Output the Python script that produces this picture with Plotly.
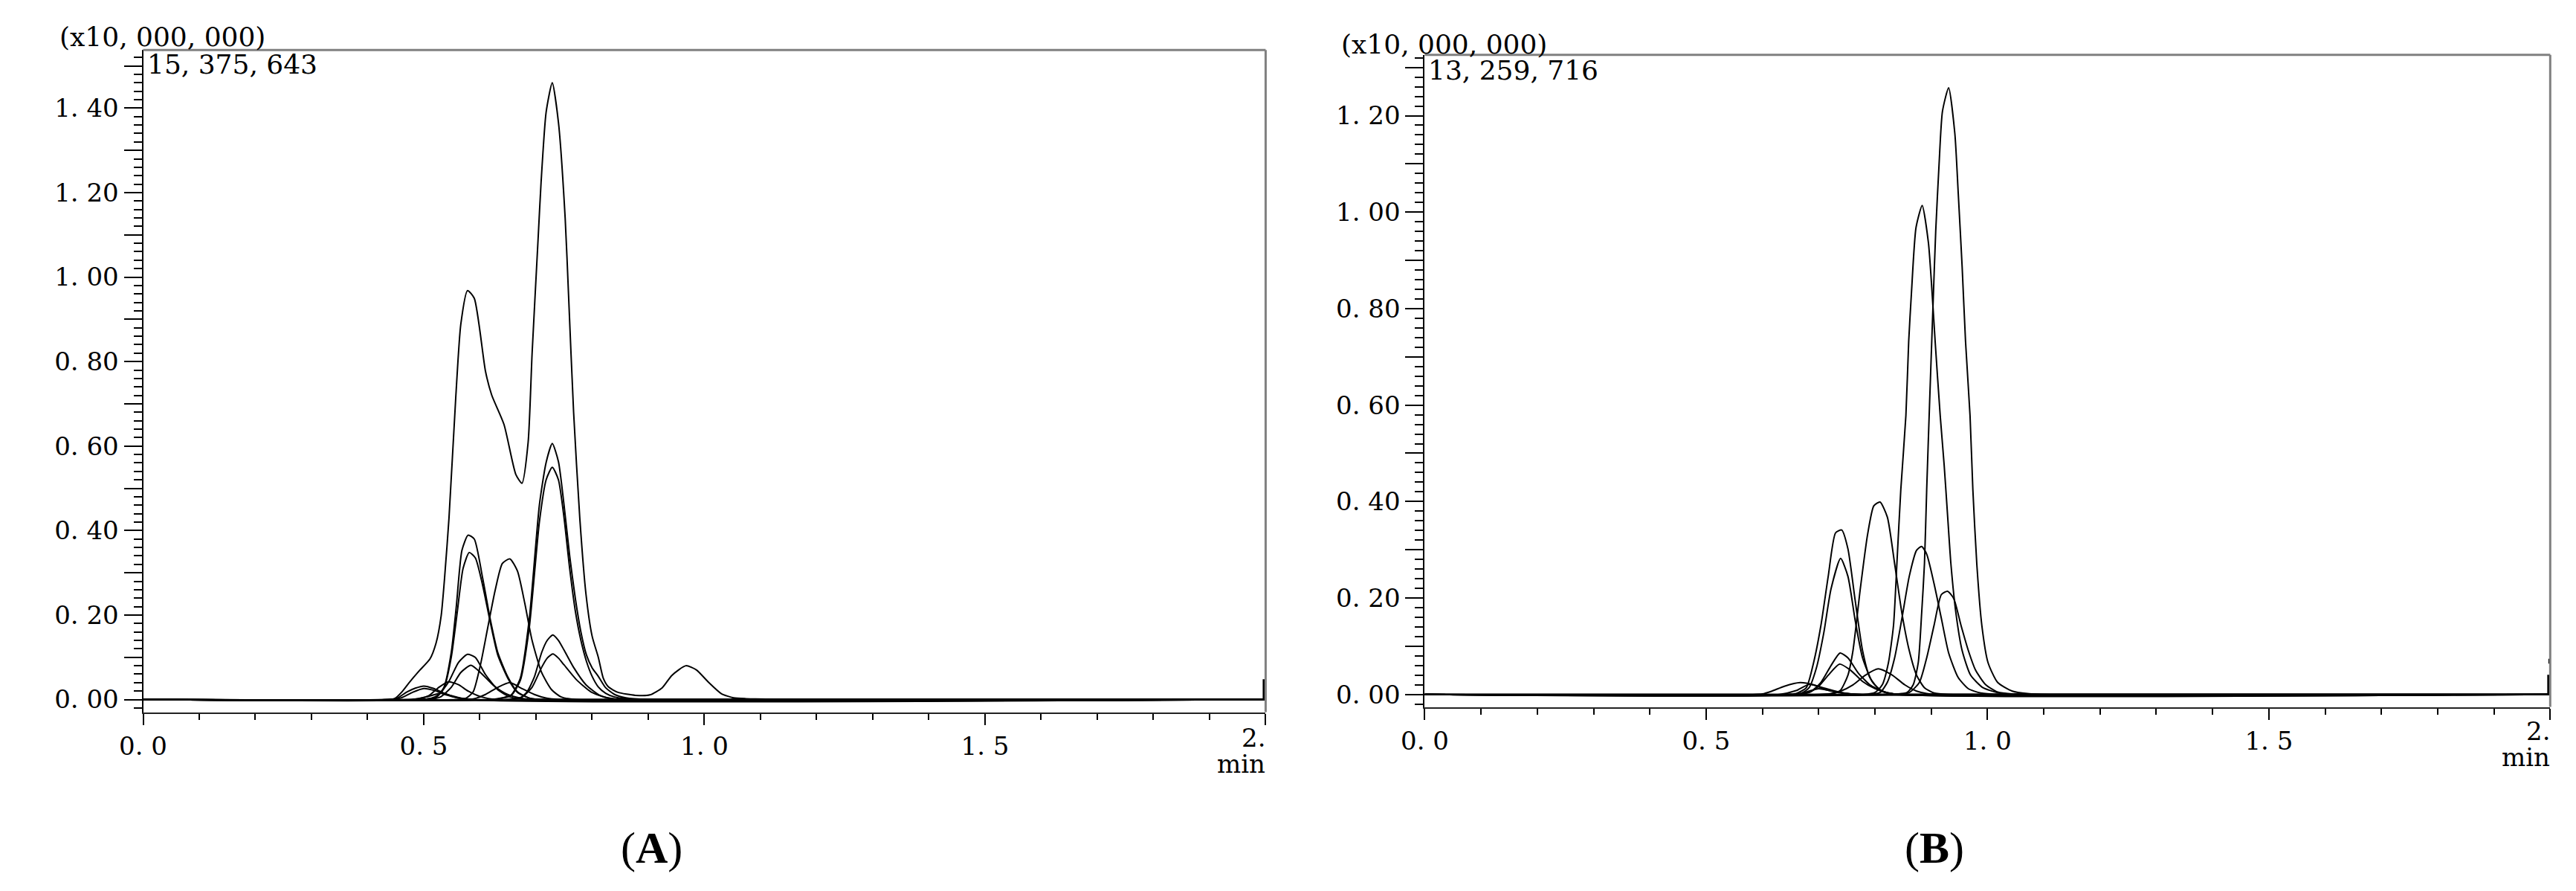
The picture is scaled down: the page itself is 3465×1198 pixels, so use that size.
import plotly.graph_objects as go

# ---------------- Panel A data (intensity in x10,000,000; time in min) ----------------
a_tic_t = [0.0, 0.44, 0.448, 0.461, 0.474, 0.492, 0.511, 0.522, 0.531, 0.537, 0.545, 0.557, 0.566, 0.578, 0.590,
           0.610, 0.621, 0.643, 0.664, 0.675, 0.686, 0.693, 0.704, 0.709, 0.718, 0.729, 0.740, 0.752, 0.758, 0.767,
           0.778, 0.789, 0.800, 0.811, 0.820, 0.829, 0.846, 0.877, 0.903, 0.925, 0.942, 0.967, 0.986, 1.008, 1.030,
           1.052, 1.074, 1.20, 2.0]
a_tic_y = [0.0, 0.0, 0.002, 0.018, 0.040, 0.068, 0.096, 0.134, 0.198, 0.286, 0.43, 0.714, 0.888, 0.968, 0.950,
           0.777, 0.721, 0.651, 0.533, 0.512, 0.609, 0.818, 1.097, 1.223, 1.390, 1.460, 1.366, 1.139, 0.958, 0.680,
           0.43, 0.25, 0.15, 0.10, 0.05, 0.030, 0.017, 0.010, 0.011, 0.028, 0.057, 0.080, 0.070, 0.040, 0.014,
           0.004, 0.002, 0.0, 0.0]

a_p2_t = [0.0, 0.62, 0.64, 0.656, 0.672, 0.688, 0.706, 0.718, 0.729, 0.740, 0.750, 0.760, 0.770, 0.780, 0.790, 0.800,
          0.811, 0.824, 0.840, 0.860, 0.90, 2.0]
a_p2_y = [0, 0, 0.004, 0.011, 0.05, 0.19, 0.46, 0.561, 0.606, 0.563, 0.46, 0.34, 0.24, 0.16, 0.105, 0.075,
          0.055, 0.028, 0.012, 0.004, 0, 0]
a_p3_t = a_p2_t
a_p3_y = [0, 0, 0.003, 0.010, 0.045, 0.17, 0.42, 0.52, 0.55, 0.52, 0.43, 0.31, 0.21, 0.14, 0.09, 0.055,
          0.03, 0.015, 0.006, 0.002, 0, 0]

a_p4_t = [0.0, 0.50, 0.522, 0.536, 0.549, 0.558, 0.568, 0.579, 0.590, 0.605, 0.619, 0.632, 0.650, 0.667, 0.689, 0.72, 2.0]
a_p4_y = [0, 0, 0.006, 0.029, 0.111, 0.22, 0.353, 0.389, 0.38, 0.287, 0.187, 0.111, 0.053, 0.018, 0.003, 0, 0]
a_p5_t = [0.0, 0.50, 0.522, 0.536, 0.549, 0.560, 0.570, 0.581, 0.592, 0.605, 0.619, 0.632, 0.650, 0.667, 0.689, 0.72, 2.0]
a_p5_y = [0, 0, 0.005, 0.027, 0.10, 0.21, 0.31, 0.348, 0.335, 0.27, 0.18, 0.105, 0.05, 0.017, 0.003, 0, 0]
a_p6_t = [0.0, 0.56, 0.575, 0.588, 0.601, 0.614, 0.627, 0.640, 0.6535, 0.667, 0.680, 0.693, 0.710, 0.728, 0.745, 0.77, 2.0]
a_p6_y = [0, 0, 0.003, 0.018, 0.082, 0.170, 0.257, 0.322, 0.333, 0.304, 0.228, 0.140, 0.064, 0.023, 0.006, 0, 0]
a_p7_t = [0.0, 0.65, 0.671, 0.684, 0.697, 0.710, 0.720, 0.730, 0.740, 0.750, 0.767, 0.789, 0.815, 0.842, 0.87, 2.0]
a_p7_y = [0, 0, 0.003, 0.018, 0.053, 0.111, 0.140, 0.153, 0.140, 0.117, 0.076, 0.035, 0.009, 0.001, 0, 0]
a_p8_t = [0.0, 0.65, 0.675, 0.693, 0.710, 0.720, 0.730, 0.740, 0.750, 0.772, 0.798, 0.824, 0.85, 2.0]
a_p8_y = [0, 0, 0.006, 0.029, 0.076, 0.098, 0.108, 0.098, 0.082, 0.047, 0.018, 0.005, 0, 0]
a_p9_t = [0.0, 0.49, 0.513, 0.527, 0.544, 0.562, 0.578, 0.592, 0.610, 0.632, 0.654, 0.68, 2.0]
a_p9_y = [0, 0, 0.003, 0.012, 0.041, 0.088, 0.107, 0.0995, 0.059, 0.023, 0.006, 0, 0]
a_p10_t = [0.0, 0.51, 0.531, 0.549, 0.566, 0.584, 0.601, 0.623, 0.645, 0.667, 0.69, 2.0]
a_p10_y = [0, 0, 0.007, 0.029, 0.064, 0.081, 0.064, 0.035, 0.015, 0.005, 0, 0]
a_p11_t = [0.0, 0.47, 0.492, 0.509, 0.527, 0.544, 0.562, 0.579, 0.601, 0.63, 2.0]
a_p11_y = [0, 0, 0.002, 0.009, 0.029, 0.042, 0.035, 0.020, 0.007, 0, 0]
a_p12_t = [0.0, 0.43, 0.452, 0.470, 0.485, 0.500, 0.518, 0.536, 0.558, 0.58, 2.0]
a_p12_y = [0, 0, 0.003, 0.018, 0.027, 0.032, 0.026, 0.015, 0.005, 0, 0]
a_p13_t = [0.0, 0.44, 0.46, 0.48, 0.50, 0.52, 0.54, 0.56, 0.59, 2.0]
a_p13_y = [0, 0, 0.004, 0.017, 0.026, 0.021, 0.011, 0.004, 0, 0]
a_p14_t = [0.0, 0.58, 0.593, 0.610, 0.632, 0.6535, 0.675, 0.697, 0.719, 0.74, 2.0]
a_p14_y = [0, 0, 0.003, 0.012, 0.029, 0.040, 0.026, 0.012, 0.003, 0, 0]
a_p15_t = [0.0, 0.48, 0.51, 0.53, 0.55, 0.58, 2.0]
a_p15_y = [0, 0, 0.008, 0.015, 0.009, 0, 0]
a_end_t = [2.0, 2.0]
a_end_y = [0.0, 0.048]

# ---------------- Panel B data ----------------
b_p1_t = [0.0, 0.80, 0.840, 0.857, 0.868, 0.877, 0.883, 0.888, 0.892, 0.897, 0.903, 0.908, 0.914, 0.920, 0.931,
          0.942, 0.948, 0.955, 0.961, 0.969, 0.974, 0.981, 0.990, 1.001, 1.018, 1.044, 1.071, 1.12, 2.0]
b_p1_y = [0, 0, 0.001, 0.004, 0.020, 0.066, 0.168, 0.271, 0.425, 0.60, 0.80, 0.96, 1.10, 1.209, 1.258,
          1.163, 1.040, 0.886, 0.732, 0.578, 0.425, 0.271, 0.143, 0.066, 0.025, 0.007, 0.002, 0, 0]
b_p2_t = [0.0, 0.78, 0.800, 0.813, 0.824, 0.833, 0.839, 0.846, 0.855, 0.860, 0.865, 0.873, 0.884, 0.895, 0.900,
          0.907, 0.916, 0.923, 0.929, 0.935, 0.944, 0.955, 0.970, 0.992, 1.018, 1.06, 2.0]
b_p2_y = [0, 0, 0.004, 0.020, 0.066, 0.143, 0.271, 0.425, 0.578, 0.732, 0.835, 0.968, 1.014, 0.937, 0.861,
          0.732, 0.578, 0.476, 0.373, 0.271, 0.168, 0.091, 0.040, 0.014, 0.004, 0, 0]
b_p3_t = [0.0, 0.64, 0.660, 0.678, 0.691, 0.704, 0.717, 0.730, 0.741, 0.752, 0.765, 0.778, 0.791, 0.809, 0.826, 0.85, 2.0]
b_p3_y = [0, 0, 0.002, 0.014, 0.066, 0.143, 0.245, 0.335, 0.341, 0.302, 0.194, 0.091, 0.035, 0.009, 0.002, 0, 0]
b_p4_t = [0.0, 0.65, 0.670, 0.683, 0.696, 0.709, 0.722, 0.739, 0.752, 0.765, 0.778, 0.796, 0.813, 0.84, 2.0]
b_p4_y = [0, 0, 0.003, 0.014, 0.055, 0.127, 0.219, 0.282, 0.245, 0.153, 0.076, 0.025, 0.007, 0, 0]
b_p5_t = [0.0, 0.70, 0.726, 0.739, 0.752, 0.761, 0.774, 0.787, 0.798, 0.809, 0.822, 0.835, 0.848, 0.861, 0.874,
          0.888, 0.905, 0.93, 2.0]
b_p5_y = [0, 0, 0.002, 0.009, 0.040, 0.091, 0.219, 0.332, 0.391, 0.399, 0.368, 0.271, 0.168, 0.091, 0.040,
          0.014, 0.003, 0, 0]
b_p6_t = [0.0, 0.79, 0.809, 0.822, 0.835, 0.848, 0.861, 0.874, 0.883, 0.892, 0.905, 0.918, 0.931, 0.948, 0.966,
          0.988, 1.02, 2.0]
b_p6_y = [0, 0, 0.004, 0.025, 0.076, 0.158, 0.245, 0.299, 0.307, 0.291, 0.230, 0.158, 0.086, 0.035, 0.012,
          0.003, 0, 0]
b_p7_t = [0.0, 0.84, 0.861, 0.879, 0.892, 0.905, 0.918, 0.929, 0.940, 0.953, 0.966, 0.979, 0.997, 1.018, 1.044, 1.08, 2.0]
b_p7_y = [0, 0, 0.004, 0.025, 0.076, 0.143, 0.207, 0.214, 0.199, 0.143, 0.091, 0.050, 0.020, 0.005, 0.001, 0, 0]
b_p8_t = [0.0, 0.66, 0.687, 0.704, 0.722, 0.738, 0.752, 0.770, 0.791, 0.813, 0.84, 2.0]
b_p8_y = [0, 0, 0.007, 0.025, 0.060, 0.086, 0.076, 0.045, 0.020, 0.007, 0, 0]
b_p9_t = [0.0, 0.66, 0.683, 0.700, 0.717, 0.737, 0.757, 0.778, 0.800, 0.822, 0.85, 2.0]
b_p9_y = [0, 0, 0.004, 0.017, 0.040, 0.063, 0.050, 0.027, 0.012, 0.003, 0, 0]
b_p10_t = [0.0, 0.70, 0.722, 0.739, 0.761, 0.783, 0.806, 0.831, 0.853, 0.874, 0.892, 0.92, 2.0]
b_p10_y = [0, 0, 0.002, 0.007, 0.020, 0.040, 0.053, 0.040, 0.020, 0.007, 0.002, 0, 0]
b_p11_t = [0.0, 0.58, 0.600, 0.617, 0.639, 0.667, 0.691, 0.713, 0.735, 0.757, 0.78, 2.0]
b_p11_y = [0, 0, 0.001, 0.007, 0.017, 0.0246, 0.020, 0.010, 0.004, 0.001, 0, 0]
b_p12_t = [0.0, 0.63, 0.66, 0.683, 0.71, 0.74, 0.77, 2.0]
b_p12_y = [0, 0, 0.008, 0.021, 0.013, 0.004, 0, 0]
b_p13_t = [0.0, 0.66, 0.68, 0.70, 0.72, 0.75, 0.78, 2.0]
b_p13_y = [0, 0, 0.006, 0.012, 0.008, 0.002, 0, 0]
b_end_t = [2.0, 2.0]
b_end_y = [0.0, 0.041]
b_dot_y = [0.064, 0.074]

# ---------------- axis / text labels ----------------
x_tickvals = [0.0, 0.5, 1.0, 1.5, 2.0]
x_ticktext = ["0. 0", "0. 5", "1. 0", "1. 5", ""]
a_y_tickvals = [0.0, 0.1, 0.2, 0.3, 0.4, 0.5, 0.6, 0.7, 0.8, 0.9, 1.0, 1.1, 1.2, 1.3, 1.4, 1.5]
a_y_ticktext = ["0. 00", "", "0. 20", "", "0. 40", "", "0. 60", "", "0. 80", "", "1. 00", "", "1. 20", "", "1. 40", ""]
b_y_tickvals = [0.0, 0.1, 0.2, 0.3, 0.4, 0.5, 0.6, 0.7, 0.8, 0.9, 1.0, 1.1, 1.2, 1.3]
b_y_ticktext = ["0. 00", "", "0. 20", "", "0. 40", "", "0. 60", "", "0. 80", "", "1. 00", "", "1. 20", ""]
a_max_label = "15, 375, 643"
b_max_label = "13, 259, 716"
scale_label = "(x10, 000, 000)"
a_ymax = 1.5375643
b_ymax = 1.3259716

W, H = 3465, 1198
FONT = "DejaVu Serif"

fig = go.Figure()

line_style = dict(color="black", width=2, shape="spline", smoothing=0.6)

a_series = [(a_tic_t, a_tic_y), (a_p2_t, a_p2_y), (a_p3_t, a_p3_y), (a_p4_t, a_p4_y), (a_p5_t, a_p5_y),
            (a_p6_t, a_p6_y), (a_p7_t, a_p7_y), (a_p8_t, a_p8_y), (a_p9_t, a_p9_y), (a_p10_t, a_p10_y),
            (a_p11_t, a_p11_y), (a_p12_t, a_p12_y), (a_p13_t, a_p13_y), (a_p14_t, a_p14_y), (a_p15_t, a_p15_y)]
b_series = [(b_p1_t, b_p1_y), (b_p2_t, b_p2_y), (b_p3_t, b_p3_y), (b_p4_t, b_p4_y), (b_p5_t, b_p5_y),
            (b_p6_t, b_p6_y), (b_p7_t, b_p7_y), (b_p8_t, b_p8_y), (b_p9_t, b_p9_y), (b_p10_t, b_p10_y),
            (b_p11_t, b_p11_y), (b_p12_t, b_p12_y), (b_p13_t, b_p13_y)]

for t, y in a_series:
    fig.add_trace(go.Scatter(x=t, y=y, mode="lines", line=line_style, xaxis="x", yaxis="y",
                             showlegend=False, hoverinfo="skip"))
for t, y in b_series:
    fig.add_trace(go.Scatter(x=t, y=y, mode="lines", line=line_style, xaxis="x2", yaxis="y2",
                             showlegend=False, hoverinfo="skip"))

fig.add_trace(go.Scatter(x=a_end_t, y=a_end_y, mode="lines", line=dict(color="black", width=8),
                         xaxis="x", yaxis="y", showlegend=False, hoverinfo="skip"))
fig.add_trace(go.Scatter(x=b_end_t, y=b_end_y, mode="lines", line=dict(color="black", width=8),
                         xaxis="x2", yaxis="y2", showlegend=False, hoverinfo="skip"))
fig.add_trace(go.Scatter(x=b_end_t, y=b_dot_y, mode="lines", line=dict(color="black", width=5),
                         xaxis="x2", yaxis="y2", showlegend=False, hoverinfo="skip"))

tickfont = dict(family=FONT, size=34, color="black")


def xaxis_cfg(domain, anchor):
    return dict(domain=domain, anchor=anchor, range=[0, 2.0], tickmode="array", tickvals=x_tickvals,
                ticktext=x_ticktext, ticks="outside", ticklen=15, tickwidth=2, tickcolor="black",
                showline=True, linecolor="#222222", linewidth=2, showgrid=False, zeroline=False,
                tickfont=tickfont, fixedrange=True,
                minor=dict(tickmode="linear", tick0=0, dtick=0.1, ticks="outside", ticklen=8,
                           tickwidth=2, tickcolor="black", showgrid=False))


def yaxis_cfg(domain, anchor, rng, tv, tt):
    return dict(domain=domain, anchor=anchor, range=rng, tickmode="array", tickvals=tv, ticktext=tt,
                ticks="outside", ticklen=24, tickwidth=2, tickcolor="black", showline=True,
                linecolor="black", linewidth=2, showgrid=False, zeroline=False, tickfont=tickfont,
                fixedrange=True,
                minor=dict(tickmode="linear", tick0=0, dtick=0.02, ticks="outside", ticklen=11,
                           tickwidth=2, tickcolor="black", showgrid=False))


a_xdom = [162 / W, 1686 / W]
a_ydom = [1 - 960 / H, 1 - 67.4 / H]
b_xdom = [1902 / W, 3430 / W]
b_ydom = [1 - 953 / H, 1 - 74 / H]

fig.update_layout(
    width=W, height=H, margin=dict(l=0, r=0, t=0, b=0),
    paper_bgcolor="white", plot_bgcolor="white", showlegend=False,
    xaxis=xaxis_cfg(a_xdom, "y"),
    yaxis=yaxis_cfg(a_ydom, "x", [-0.03, a_ymax], a_y_tickvals, a_y_ticktext),
    xaxis2=xaxis_cfg(b_xdom, "y2"),
    yaxis2=yaxis_cfg(b_ydom, "x2", [-0.026, b_ymax], b_y_tickvals, b_y_ticktext),
)

# top / right frame lines (gray)
for xr, yr in (("x domain", "y domain"), ("x2 domain", "y2 domain")):
    fig.add_shape(type="line", xref=xr, yref=yr, x0=0, x1=1, y0=1, y1=1,
                  line=dict(color="#808080", width=3))
    fig.add_shape(type="line", xref=xr, yref=yr, x0=1, x1=1, y0=0, y1=1,
                  line=dict(color="#808080", width=3))

txt = dict(family=FONT, size=36, color="black")


def ann(text, xpx, ypx, xanchor, font):
    fig.add_annotation(text=text, xref="paper", yref="paper", x=xpx / W, y=1 - ypx / H,
                       xanchor=xanchor, yanchor="middle", showarrow=False, font=font)


ann(scale_label, 46, 50, "left", txt)
ann(a_max_label, 166, 87, "left", txt)
ann(scale_label, 1786, 60, "left", txt)
ann(b_max_label, 1905, 95, "left", txt)
ann("2.", 1688, 994, "right", tickfont)
ann("2.", 3432, 985, "right", tickfont)
ann("min", 1688, 1030, "right", tickfont)
ann("min", 3432, 1021, "right", tickfont)
lab = dict(family="Liberation Serif", size=60, color="black")
ann("(<b>A</b>)", 852, 1143, "center", lab)
ann("(<b>B</b>)", 2594, 1143, "center", lab)

fig.write_html("out.html", config={"displayModeBar": False, "staticPlot": True},
               post_script="document.body.style.margin='0';")
